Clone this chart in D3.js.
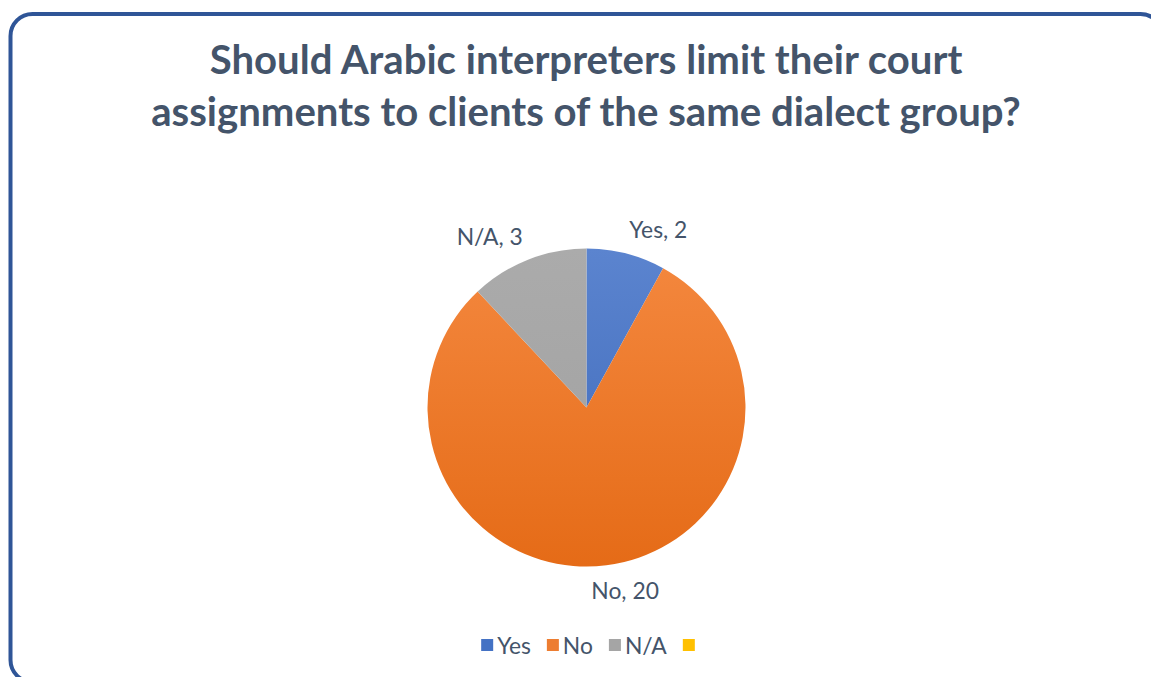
<!DOCTYPE html>
<html>
<head>
<meta charset="utf-8">
<script src="https://cdn.jsdelivr.net/npm/d3@7"></script>
<style>
  html, body { margin: 0; padding: 0; background: #ffffff; }
  svg { display: block; }
</style>
</head>
<body>
<svg id="chart" width="1151" height="677"></svg>
<script>
// ---- data ----
const categories = ["Yes", "No", "N/A", ""];
const values = [2, 20, 3, 0];
const colors = ["#4472c4", "#ed7d31", "#a5a5a5", "#ffc000"];
const colorsLight = ["#5b84cf", "#f4883f", "#ababab", "#ffc000"];
const colorsDark = ["#3d68b8", "#e56b17", "#9f9f9f", "#ffc000"];
const titleLines = ["Should Arabic interpreters limit their court",
                    "assignments to clients of the same dialect group?"];

const W = 1151, H = 677;
const svg = d3.select("#chart");
const textColor = "#44546a";
const fontFam = "Lato, 'Open Sans', sans-serif";

// frame
svg.append("rect")
  .attr("x", 10.5).attr("y", 14)
  .attr("width", 1152).attr("height", 668)
  .attr("rx", 22).attr("ry", 22)
  .attr("fill", "#ffffff")
  .attr("stroke", "#2f5597")
  .attr("stroke-width", 4);

// title
const title = svg.append("g");
const tLines = title.selectAll("text").data(titleLines).join("text")
  .attr("x", 586).attr("y", (d, i) => 74 + i * 52)
  .attr("text-anchor", "middle")
  .attr("font-family", fontFam)
  .attr("font-weight", 700)
  .attr("font-size", 36)
  .attr("fill", textColor)
  .text(d => d);
const w0 = tLines.nodes()[0].getComputedTextLength();
tLines.attr("font-size", 36 * 753 / w0);

// pie
const cx = 586.5, cy = 407.5, r = 159;
const pie = d3.pie().sort(null).value(d => d)(values);
const arc = d3.arc().innerRadius(0).outerRadius(r);

const defs = svg.append("defs");
colors.forEach((c, i) => {
  const g = defs.append("linearGradient")
    .attr("id", "grad" + i)
    .attr("gradientUnits", "userSpaceOnUse")
    .attr("x1", 0).attr("y1", -r).attr("x2", 0).attr("y2", r);
  g.append("stop").attr("offset", "0%").attr("stop-color", colorsLight[i]);
  g.append("stop").attr("offset", "100%").attr("stop-color", colorsDark[i]);
});

const pg = svg.append("g").attr("transform", `translate(${cx},${cy})`);
pg.selectAll("path").data(pie.filter(d => d.value > 0)).join("path")
  .attr("d", arc)
  .attr("fill", d => `url(#grad${d.index})`);

// label font size calibrated so "Yes, 2" is ~58px wide
const probe = svg.append("text").attr("font-family", fontFam).attr("font-size", 20).text("Yes, 2");
const labelFs = 20 * 58 / probe.node().getComputedTextLength();
probe.remove();

// labels
const labelR = r + 14;
pie.filter(d => d.value > 0).forEach(d => {
  const a = (d.startAngle + d.endAngle) / 2;
  const s = Math.sin(a), c = Math.cos(a);
  const px = cx + labelR * s, py = cy - labelR * c;
  const t = svg.append("text")
    .attr("font-family", fontFam)
    .attr("font-size", labelFs)
    .attr("fill", textColor)
    .attr("text-anchor", "middle")
    .attr("dominant-baseline", "central")
    .text(`${categories[d.index]}, ${d.value}`);
  const bw = t.node().getComputedTextLength();
  const bh = 22;
  const k = Math.max(-1, Math.min(1, 4 * s));
  t.attr("x", px + k * bw / 2).attr("y", py - c * bh / 2);
});

// legend
const lg = svg.append("g");
let x = 0;
categories.forEach((cat, i) => {
  const g = lg.append("g").attr("transform", `translate(${x},0)`);
  g.append("rect").attr("x", 0).attr("y", -6).attr("width", 12).attr("height", 12)
    .attr("fill", colors[i]);
  const t = g.append("text").attr("x", 16).attr("y", 0)
    .attr("dominant-baseline", "central")
    .attr("font-family", fontFam).attr("font-size", labelFs)
    .attr("fill", textColor).text(cat);
  const tw = cat ? t.node().getComputedTextLength() : 0;
  x += (cat ? 16 + tw : 12) + 16;
});
const totalW = x - 16;
lg.attr("transform", `translate(${588 - totalW / 2},645)`);
</script>
</body>
</html>
